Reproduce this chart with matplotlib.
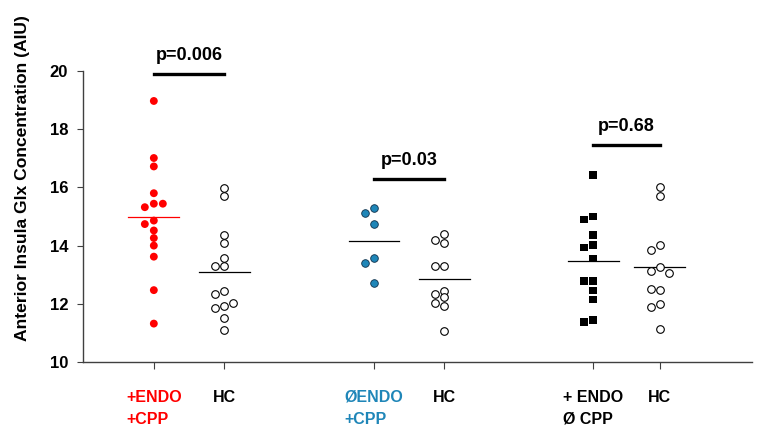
import numpy as np
import matplotlib.pyplot as plt

plt.rcParams['font.family'] = ['Liberation Sans', 'DejaVu Sans']
plt.rcParams['font.weight'] = 'bold'

# values (AIU)
endo_cpp = [18.97, 17.01, 16.72, 15.80, 15.44, 15.32, 15.44, 14.86, 14.74,
            14.52, 14.26, 14.00, 13.62, 12.47, 11.32]
hc_1 = [15.98, 15.70, 14.38, 14.08, 13.56, 13.31, 13.31, 12.43, 12.33,
        11.93, 11.84, 12.02, 11.51, 11.10]
noendo_cpp = [15.30, 15.13, 14.75, 13.56, 13.41, 12.72]
hc_2 = [14.39, 14.20, 14.08, 13.30, 13.30, 12.43, 12.34, 12.22, 12.03,
        11.91, 11.08]
endo_nocpp = [16.43, 15.00, 14.90, 14.36, 14.03, 13.94, 13.56, 12.79, 12.79,
              12.46, 12.15, 11.45, 11.37]
hc_3 = [16.00, 15.70, 14.02, 13.85, 13.25, 13.14, 13.05, 12.48, 12.51,
        11.98, 11.89, 11.13]

tick_labels = ['+ENDO\n+CPP', 'HC', '\u00d8ENDO\n+CPP', 'HC', '+ ENDO\n\u00d8 CPP', 'HC']
p_labels = ['p=0.006', 'p=0.03', 'p=0.68']
p_bar_y = [19.9, 16.3, 17.45]

xpos = [1, 2, 4.12, 5.12, 7.23, 8.17]
groups = [endo_cpp, hc_1, noendo_cpp, hc_2, endo_nocpp, hc_3]
red = '#ff0000'
blue = '#1f86b8'
styles = [
    dict(marker='o', color=red, edgecolor='none', s=32),
    dict(marker='o', facecolor='white', edgecolor='black', linewidths=0.8, s=30),
    dict(marker='o', color=blue, edgecolor='#0d2f4a', linewidths=0.6, s=30),
    dict(marker='o', facecolor='white', edgecolor='black', linewidths=0.8, s=30),
    dict(marker='s', color='black', edgecolor='none', s=30),
    dict(marker='o', facecolor='white', edgecolor='black', linewidths=0.8, s=30),
]
label_colors = [red, 'black', blue, 'black', 'black', 'black']
mean_colors = [red, 'black', 'black', 'black', 'black', 'black']

fig = plt.figure(figsize=(7.62, 4.30), dpi=100)
ax = fig.add_axes([0.1093, 0.1581, 0.8776, 0.6768])
xmin, xmax, ymin, ymax = 0, 9.48, 10, 20
ax.set_xlim(xmin, xmax)
ax.set_ylim(ymin, ymax)

# pixels per data unit, used to spread overlapping points sideways
px_x = 762 * 0.8776 / (xmax - xmin)
px_y = 430 * 0.6768 / (ymax - ymin)


def swarm(vals, x0, min_dist=6.0, step=9.0):
    placed = []
    xs = []
    for v in vals:
        for k in [0, -1, 1, -2, 2]:
            dx = k * step
            ok = all(np.hypot(dx - px, (v - py) * px_y) >= min_dist for px, py in placed)
            if ok:
                break
        placed.append((dx, v))
        xs.append(x0 + dx / px_x)
    return xs


for x0, vals, st, mc in zip(xpos, groups, styles, mean_colors):
    xs = swarm(vals, x0)
    ax.scatter(xs, vals, zorder=3, clip_on=False, **st)
    m = np.mean(vals)
    ax.plot([x0 - 0.36, x0 + 0.36], [m, m], color=mc, lw=0.9, zorder=2)

for i, (lab, yb) in enumerate(zip(p_labels, p_bar_y)):
    x1, x2 = xpos[2 * i], xpos[2 * i + 1]
    ax.plot([x1, x2], [yb, yb], color='black', lw=2.4, clip_on=False)
    ax.annotate(lab, xy=((x1 + x2) / 2, yb), xytext=(0, 7), textcoords='offset points',
                ha='center', va='bottom', fontsize=13, fontweight='bold')

for s in ['top', 'right']:
    ax.spines[s].set_visible(False)
for s in ['left', 'bottom']:
    ax.spines[s].set_color('#404040')
    ax.spines[s].set_linewidth(1.0)

ax.set_yticks([10, 12, 14, 16, 18, 20])
ax.tick_params(axis='y', length=4, width=0.8, color='#404040', pad=7, labelsize=12)
ax.set_xticks(xpos)
ax.set_xticklabels(tick_labels, fontsize=11.5, fontweight='bold', multialignment='left',
                   linespacing=1.6)
ax.tick_params(axis='x', length=5, width=0.8, color='#404040', pad=15)
for t, c in zip(ax.get_xticklabels(), label_colors):
    t.set_color(c)

fig.text(23 / 762, 1 - 178 / 430, 'Anterior Insula Glx Concentration (AIU)',
         rotation=90, ha='center', va='center', fontsize=12.6, fontweight='bold')

fig.savefig('out.png', dpi=100)
